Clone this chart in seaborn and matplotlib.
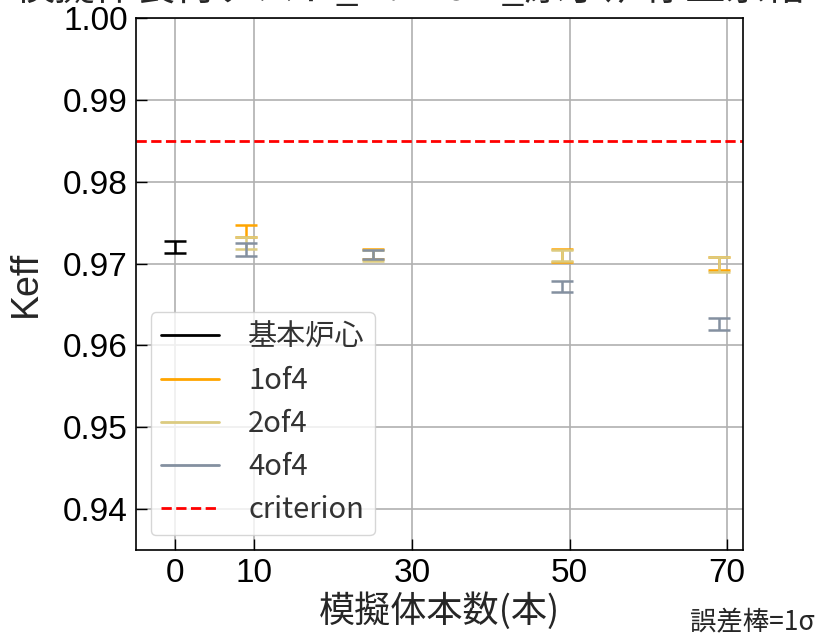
import pandas as pd
import seaborn as sns
import matplotlib.pyplot as plt
from matplotlib.lines import Line2D

# 基本炉心 (reference core)
base_x = [0]
base_keff = [0.9720]
base_err = [0.0007]

# simulated-body cases
rod_x = [9, 25, 49, 69]
keff_1of4 = [0.9740, 0.9712, 0.9710, 0.9700]
keff_2of4 = [0.9725, 0.9710, 0.9710, 0.9699]
keff_4of4 = [0.9717, 0.9711, 0.9672, 0.9626]
err_1of4 = [0.0007, 0.0006, 0.0008, 0.0008]
err_2of4 = [0.0007, 0.0007, 0.0007, 0.0009]
err_4of4 = [0.0008, 0.0006, 0.0007, 0.0007]

criterion = 0.985
xticks = [0, 10, 30, 50, 70]
yticks = [0.94, 0.95, 0.96, 0.97, 0.98, 0.99, 1.00]

title = "模擬体装荷テスト_H.27cm_原子炉停止余裕"

colors = {"基本炉心": "black", "1of4": "#ffa500", "2of4": "#dccb80", "4of4": "#8490a0"}

sns.set_style("whitegrid", {
    "axes.edgecolor": "black",
    "grid.color": "#b0b0b0",
    "xtick.direction": "in",
    "ytick.direction": "in",
    "xtick.bottom": True,
    "ytick.left": True,
})
plt.rcParams["font.family"] = ["Liberation Sans", "Noto Sans CJK JP"]

rows = []
for x, k, e in zip(base_x, base_keff, base_err):
    rows.append(("基本炉心", x, k, e))
for name, ks, es in [("1of4", keff_1of4, err_1of4), ("2of4", keff_2of4, err_2of4),
                     ("4of4", keff_4of4, err_4of4)]:
    for x, k, e in zip(rod_x, ks, es):
        rows.append((name, x, k, e))
df = pd.DataFrame(rows, columns=["case", "n", "keff", "err"])

fig = plt.figure(figsize=(8.21, 6.37), dpi=100)
ax = fig.add_axes([0.1657, 0.1366, 0.7393, 0.8351])

for case, sub in df.groupby("case", sort=False):
    ax.errorbar(sub["n"], sub["keff"], yerr=sub["err"], fmt="none",
                ecolor=colors[case], elinewidth=1.8, capsize=8, capthick=1.8)

ax.axhline(criterion, color="red", linestyle="--", linewidth=2)

ax.set_xlim(-5, 72)
ax.set_ylim(0.935, 1.0)
ax.set_xticks(xticks)
ax.set_yticks(yticks)
ax.set_yticklabels([f"{v:.2f}" for v in yticks])
ax.tick_params(labelsize=24, length=8, width=1, pad=6, colors="black")
for s in ax.spines.values():
    s.set_linewidth(1.2)
ax.grid(True, linewidth=1.2)

ax.set_xlabel("模擬体本数(本)", fontsize=26, family=["Noto Sans CJK JP"], labelpad=2)
ax.set_ylabel("Keff", fontsize=27, labelpad=14)

handles = [Line2D([], [], color=c, linewidth=2) for c in colors.values()]
handles.append(Line2D([], [], color="red", linestyle="--", linewidth=2))
labels = list(colors.keys()) + ["criterion"]
leg = ax.legend(handles, labels, loc="lower left", frameon=True,
                prop={"family": "Noto Sans CJK JP", "size": 21},
                labelspacing=0.45, handlelength=2.0, handletextpad=1.0, borderpad=0.35)
leg.get_frame().set_edgecolor("#cccccc")
leg.get_frame().set_alpha(0.8)
for t in leg.get_texts():
    t.set_color("#333333")

fig.text(0.5, 1 - 9 / 637, title, ha="center", va="bottom", fontsize=29,
         family=["Noto Sans CJK JP"])
fig.text(690 / 821, 1 / 637, "誤差棒=1σ", ha="left", va="bottom", fontsize=19,
         family=["Noto Sans CJK JP", "DejaVu Sans"])

fig.savefig("out.png", dpi=100)
